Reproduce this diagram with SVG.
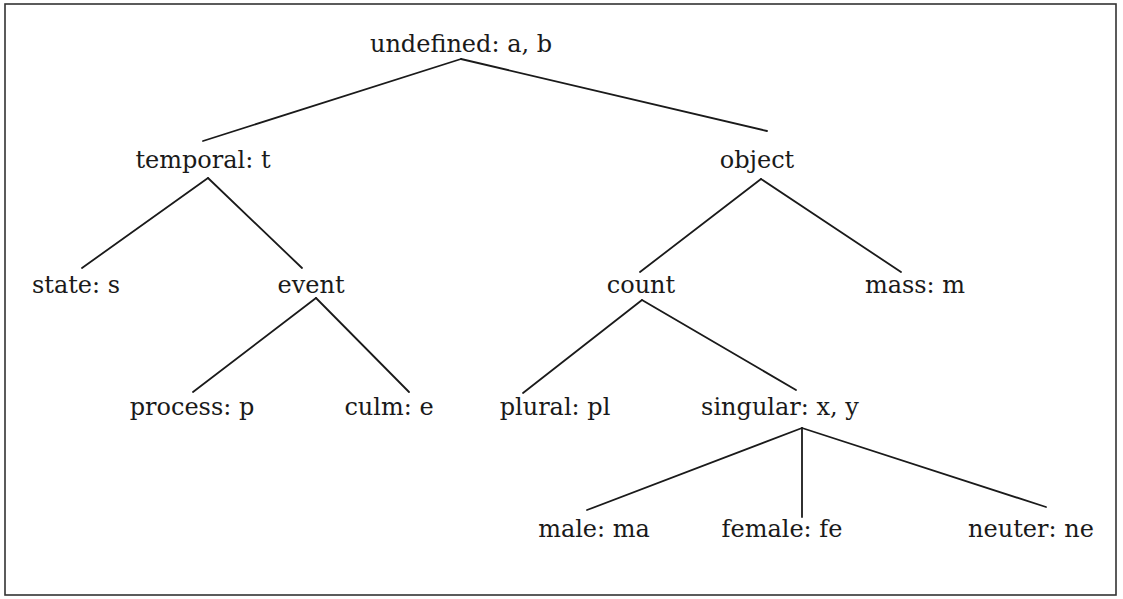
<svg xmlns="http://www.w3.org/2000/svg" width="1123" height="599" viewBox="0 0 1123 599">
<style>
.t{font-family:"DejaVu Serif","Liberation Serif",serif;font-size:24px;fill:#1a1a1a;text-anchor:middle}
.e line{stroke:#1a1a1a;stroke-width:1.8;stroke-linecap:round}
</style>
<rect x="0" y="0" width="1123" height="599" fill="#ffffff"/>
<rect x="5" y="4" width="1111" height="591" fill="none" stroke="#333" stroke-width="1.6"/>
<g class="e" id="connectors">
<line x1="461" y1="59" x2="203" y2="141"/>
<line x1="461" y1="59" x2="767" y2="131"/>
<line x1="208" y1="178" x2="82" y2="268"/>
<line x1="208" y1="178" x2="302" y2="268"/>
<line x1="316" y1="298" x2="193" y2="392"/>
<line x1="316" y1="298" x2="409" y2="392"/>
<line x1="761" y1="179" x2="640" y2="272"/>
<line x1="761" y1="179" x2="901" y2="272"/>
<line x1="642" y1="300" x2="523" y2="393"/>
<line x1="642" y1="300" x2="796" y2="390"/>
<line x1="802" y1="428" x2="587" y2="510"/>
<line x1="802" y1="428" x2="802" y2="517"/>
<line x1="802" y1="428" x2="1046" y2="507"/>
</g>
<g id="undefined"><text class="t" x="461" y="52" font-size="24.5">undefined: a, b</text></g>
<g id="temporal"><text class="t" x="203" y="168">temporal: t</text></g>
<g id="object"><text class="t" x="757" y="168">object</text></g>
<g id="state"><text class="t" x="76" y="293">state: s</text></g>
<g id="event"><text class="t" x="311" y="293">event</text></g>
<g id="count"><text class="t" x="641" y="293">count</text></g>
<g id="mass"><text class="t" x="915" y="293">mass: m</text></g>
<g id="process"><text class="t" x="192" y="415">process: p</text></g>
<g id="culm"><text class="t" x="389" y="415">culm: e</text></g>
<g id="plural"><text class="t" x="555" y="415">plural: pl</text></g>
<g id="singular"><text class="t" x="780" y="415">singular: x, y</text></g>
<g id="male"><text class="t" x="594" y="537">male: ma</text></g>
<g id="female"><text class="t" x="782" y="537">female: fe</text></g>
<g id="neuter"><text class="t" x="1031" y="537">neuter: ne</text></g>
</svg>
